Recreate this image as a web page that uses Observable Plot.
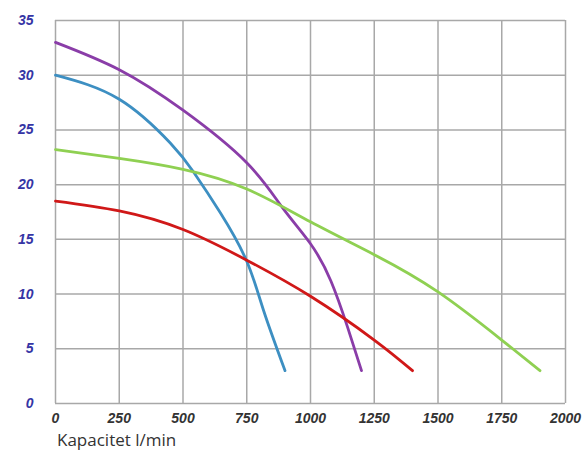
<!DOCTYPE html>
<html>
<head>
<meta charset="utf-8">
<script src="https://cdn.jsdelivr.net/npm/d3@7"></script>
<script src="https://cdn.jsdelivr.net/npm/@observablehq/plot@0.6"></script>
<style>
  html, body { margin: 0; padding: 0; background: #fff; }
  #wrap { position: relative; width: 588px; height: 456px; }
  #caption { position: absolute; left: 57px; top: 428px; font-family: "Open Sans", sans-serif; font-weight: 400; font-size: 17px; color: #333; }
  #chart svg text { font-family: "Liberation Sans", Arial, sans-serif; font-weight: bold; font-style: italic; font-size: 14px; }
</style>
</head>
<body>
<div id="wrap">
  <div id="chart"></div>
  <div id="caption">Kapacitet l/min</div>
</div>
<script>
const xTicks = [0, 250, 500, 750, 1000, 1250, 1500, 1750, 2000];
const yTicks = [0, 5, 10, 15, 20, 25, 30, 35];

const curveNames = ["P1", "P2", "P3", "P4"];
const curveColors = ["#8a3da8", "#3d8fc2", "#8fd052", "#d01818"];

const p1X = [0, 250, 500, 750, 890, 1000, 1080, 1145, 1200];
const p1Y = [33.0, 30.5, 26.8, 22.0, 17.9, 14.6, 11.2, 7.0, 3.0];

const p2X = [0, 250, 450, 540, 647, 750, 816, 900];
const p2Y = [30.0, 27.8, 23.8, 21.2, 17.4, 13.0, 8.5, 3.0];

const p3X = [0, 250, 500, 750, 1000, 1250, 1500, 1750, 1900];
const p3Y = [23.2, 22.4, 21.4, 19.6, 16.6, 13.6, 10.2, 5.8, 3.0];

const p4X = [0, 250, 500, 750, 1000, 1250, 1400];
const p4Y = [18.5, 17.6, 15.9, 13.1, 9.8, 5.8, 3.0];

const allX = [p1X, p2X, p3X, p4X];
const allY = [p1Y, p2Y, p3Y, p4Y];
const rows = curveNames.flatMap((n, k) => allX[k].map((x, i) => ({series: n, x, y: allY[k][i]})));

const chart = Plot.plot({
  width: 588,
  height: 428,
  marginLeft: 55,
  marginRight: 23,
  marginTop: 20,
  marginBottom: 25,
  x: {domain: [0, 2000], label: null},
  y: {domain: [0, 35], label: null},
  color: {domain: curveNames, range: curveColors},
  style: {background: "#fff"},
  marks: [
    Plot.gridX(xTicks, {stroke: "#a8a8a8", strokeOpacity: 1, strokeWidth: 1.5}),
    Plot.gridY(yTicks, {stroke: "#a8a8a8", strokeOpacity: 1, strokeWidth: 1.5}),
    Plot.axisX(xTicks, {tickSize: 0, tickPadding: 10, fill: "#333", tickFormat: d => String(d)}),
    Plot.axisY(yTicks, {tickSize: 0, tickPadding: 22, fill: "#3535a5", tickFormat: d => String(d)}),
    Plot.line(rows, {x: "x", y: "y", z: "series", stroke: "series", strokeWidth: 2.8, curve: "natural"})
  ]
});
document.getElementById("chart").appendChild(chart);
</script>
</body>
</html>
